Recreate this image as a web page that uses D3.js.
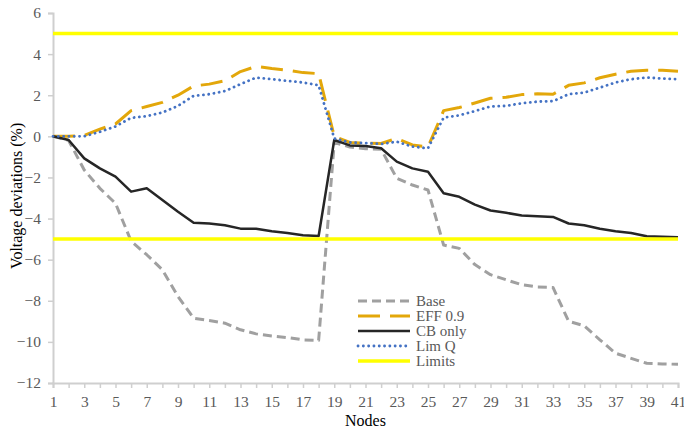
<!DOCTYPE html>
<html>
<head>
<meta charset="utf-8">
<script src="https://cdn.jsdelivr.net/npm/d3@7"></script>
<style>
body { margin: 0; background: #fff; }
</style>
</head>
<body>
<div id="chart"></div>
<script>
var w = 684;
var h = 430;
var margin = {top: 13, right: 6, bottom: 47, left: 53};
var serif = "'Liberation Serif', 'Times New Roman', serif";

// node numbers 1..41
var nodes = d3.range(1, 42);

var base = [0, -0.2, -1.64, -2.53, -3.26, -5.1, -5.76, -6.49, -7.79, -8.85,
	-8.96, -9.09, -9.41, -9.61, -9.71, -9.79, -9.9, -9.93, -0.3, -0.52,
	-0.6, -0.63, -2.04, -2.37, -2.61, -5.29, -5.45, -6.24, -6.73, -6.98,
	-7.22, -7.33, -7.35, -9.0, -9.22, -9.9, -10.55, -10.8, -11.04, -11.07, -11.09];

var eff = [0, 0, 0.05, 0.35, 0.6, 1.25, 1.45, 1.65, 2.0, 2.45,
	2.54, 2.7, 3.15, 3.4, 3.3, 3.22, 3.1, 3.05, 0, -0.3,
	-0.33, -0.35, -0.1, -0.42, -0.52, 1.25, 1.4, 1.62, 1.85, 1.9,
	2.03, 2.07, 2.05, 2.48, 2.6, 2.85, 3.02, 3.17, 3.22, 3.22, 3.17];

var cbOnly = [0, -0.18, -1.07, -1.56, -1.96, -2.69, -2.53, -3.1, -3.67, -4.2,
	-4.24, -4.33, -4.49, -4.5, -4.62, -4.7, -4.81, -4.85, -0.18, -0.44,
	-0.47, -0.58, -1.23, -1.56, -1.72, -2.77, -2.94, -3.32, -3.61, -3.72,
	-3.85, -3.89, -3.92, -4.24, -4.33, -4.5, -4.62, -4.7, -4.86, -4.89, -4.91];

var limQ = [0, 0, 0, 0.22, 0.48, 0.9, 0.98, 1.16, 1.48, 1.97,
	2.05, 2.2, 2.54, 2.86, 2.78, 2.7, 2.62, 2.48, -0.1, -0.3,
	-0.33, -0.37, -0.26, -0.5, -0.58, 0.91, 1.02, 1.23, 1.45, 1.48,
	1.61, 1.69, 1.71, 2.05, 2.13, 2.37, 2.62, 2.78, 2.86, 2.81, 2.78];

var limits = [5, -5];

var yTicks = [6, 4, 2, 0, -2, -4, -6, -8, -10, -12];
var xTicks = d3.range(1, 42, 2);

var series = [
	{name: "Base", values: base, color: "#a0a0a0", width: 3, dash: "9,5", cap: "butt"},
	{name: "EFF 0.9", values: eff, color: "#e3a70a", width: 3, dash: "22,10", cap: "butt"},
	{name: "CB only", values: cbOnly, color: "#262626", width: 2.5, dash: null, cap: "butt"},
	{name: "Lim Q", values: limQ, color: "#4472c4", width: 2.8, dash: "0.1,5.2", cap: "round"}
];

var svg = d3.select("#chart")
	.append("svg")
	.attr("width", w)
	.attr("height", h);

var xScale = d3.scaleLinear()
	.domain([1, 41])
	.range([margin.left, w - margin.right]);

var yScale = d3.scaleLinear()
	.domain([-12, 6])
	.range([h - margin.bottom, margin.top]);

// axes
var xAxis = svg.append("g")
	.attr("transform", "translate(0," + (h - margin.bottom) + ")")
	.call(d3.axisBottom(xScale).tickValues(nodes).tickSize(5).tickPadding(8)
		.tickFormat(function (d) { return xTicks.indexOf(d) >= 0 ? d : ""; }));

var yAxis = svg.append("g")
	.attr("transform", "translate(" + margin.left + ",0)")
	.call(d3.axisLeft(yScale).tickValues(yTicks).tickSize(5).tickPadding(7));

[xAxis, yAxis].forEach(function (g) {
	g.attr("font-family", serif);
	g.select(".domain").attr("stroke", "#cfcfcf").attr("stroke-width", 2);
	g.selectAll(".tick line").attr("stroke", "#cfcfcf").attr("stroke-width", 1.5);
	g.selectAll(".tick text")
		.style("font-family", serif)
		.attr("font-size", "15.5px")
		.attr("fill", "#595959");
});

// data lines
var line = d3.line()
	.x(function (d, i) { return xScale(nodes[i]); })
	.y(function (d) { return yScale(d); });

series.forEach(function (s) {
	svg.append("path")
		.datum(s.values)
		.attr("fill", "none")
		.attr("stroke", s.color)
		.attr("stroke-width", s.width)
		.attr("stroke-dasharray", s.dash)
		.attr("stroke-linecap", s.cap)
		.attr("stroke-linejoin", "round")
		.attr("d", line);
});

// limit lines
svg.selectAll(".limit")
	.data(limits)
	.enter()
	.append("line")
	.attr("class", "limit")
	.attr("x1", xScale(1))
	.attr("x2", xScale(41))
	.attr("y1", function (d) { return yScale(d); })
	.attr("y2", function (d) { return yScale(d); })
	.attr("stroke", "#ffff00")
	.attr("stroke-width", 3.5);

// axis titles
svg.append("text")
	.attr("x", (margin.left + w - margin.right) / 2)
	.attr("y", 426)
	.attr("text-anchor", "middle")
	.style("font-family", serif)
	.attr("font-size", "16px")
	.attr("fill", "#000")
	.text("Nodes");

svg.append("text")
	.attr("transform", "translate(22," + yScale(-2.9) + ") rotate(-90)")
	.attr("text-anchor", "middle")
	.style("font-family", serif)
	.attr("font-size", "16px")
	.attr("fill", "#000")
	.text("Voltage deviations (%)");

// legend
var legendItems = series.concat([{name: "Limits", color: "#ffff00", width: 3.5, dash: null, cap: "butt"}]);
var legend = svg.append("g").attr("transform", "translate(358,301)");
var rows = legend.selectAll("g")
	.data(legendItems)
	.enter()
	.append("g")
	.attr("transform", function (d, i) { return "translate(0," + (i * 15) + ")"; });

rows.append("line")
	.attr("x1", 0)
	.attr("x2", 52)
	.attr("stroke", function (d) { return d.color; })
	.attr("stroke-width", function (d) { return d.width; })
	.attr("stroke-dasharray", function (d) { return d.dash; })
	.attr("stroke-linecap", function (d) { return d.cap; });

rows.append("text")
	.attr("x", 58)
	.attr("y", 5)
	.style("font-family", serif)
	.attr("font-size", "15px")
	.attr("fill", "#595959")
	.text(function (d) { return d.name; });
</script>
</body>
</html>
